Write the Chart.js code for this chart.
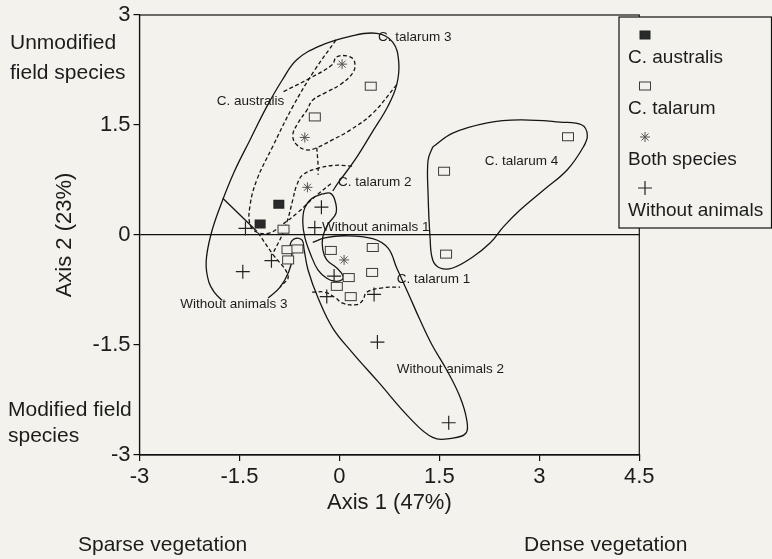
<!DOCTYPE html>
<html>
<head>
<meta charset="utf-8">
<script src="https://cdn.jsdelivr.net/npm/chart.js@4.4.1/dist/chart.umd.min.js"></script>
<style>
  html, body { margin: 0; padding: 0; background: #f3f2ec; }
  #wrap { position: relative; width: 772px; height: 559px; }
</style>
</head>
<body>
<div id="wrap"><canvas id="ordination" width="772" height="559"></canvas></div>
<script>
// Tick labels
var xTicks = [-3, -1.5, 0, 1.5, 3, 4.5];
var yTicks = [-3, -1.5, 0, 1.5, 3];

// Sample scores (axis 1, axis 2)
var australisPts = [[-0.91, 0.42], [-1.19, 0.15]];
var talarumPts = [
    [0.47, 2.03], [-0.37, 1.61], [-0.84, 0.08], [-0.78, -0.20], [-0.63, -0.19],
    [-0.77, -0.34], [-0.13, -0.21], [0.50, -0.17], [0.49, -0.51], [0.14, -0.58],
    [-0.04, -0.70], [0.17, -0.84], [3.43, 1.34], [1.57, 0.87], [1.60, -0.26]
];
var bothPts = [[0.04, 2.33], [-0.52, 1.33], [-0.48, 0.65], [0.07, -0.34]];
var withoutPts = [
    [-1.41, 0.09], [-0.27, 0.38], [-0.37, 0.10], [-1.02, -0.35], [-1.45, -0.50],
    [-0.08, -0.56], [-0.19, -0.84], [0.52, -0.81], [0.57, -1.46], [1.64, -2.56]
];

// Group outlines, solid
var lineTalarum3 = [
    [-0.10, 0.60], [-0.02, 0.71], [0.23, 1.02], [0.49, 1.40], [0.73, 1.76], [0.86, 2.05],
    [0.89, 2.36], [0.80, 2.63], [0.56, 2.75], [0.16, 2.71], [-0.29, 2.58], [-0.64, 2.39],
    [-0.86, 2.11], [-1.09, 1.75], [-1.34, 1.30], [-1.58, 0.86], [-1.78, 0.41], [-1.93, 0.00],
    [-2.00, -0.37], [-1.96, -0.64], [-1.87, -0.79], [-1.76, -0.89]
];
var lineWithout2 = [
    [-1.07, -0.86], [-0.89, -0.71], [-0.76, -0.50], [-0.71, -0.31], [-0.74, -0.14],
    [-0.67, -0.05], [-0.56, -0.07], [-0.53, -0.20], [-0.47, -0.48], [-0.32, -0.86],
    [-0.10, -1.27], [0.19, -1.60], [0.58, -2.00], [1.06, -2.50], [1.40, -2.76],
    [1.70, -2.77], [1.90, -2.70], [1.91, -2.52], [1.81, -2.21], [1.61, -1.84],
    [1.39, -1.50], [1.21, -1.16], [1.03, -0.79], [0.86, -0.45], [0.73, -0.18],
    [0.50, -0.05], [0.08, -0.01], [-0.22, -0.04], [-0.40, -0.10]
];
var lineWithout1 = [
    [-0.26, 0.56], [-0.14, 0.57], [-0.07, 0.48], [-0.05, 0.30], [-0.17, 0.15],
    [-0.25, -0.03], [-0.25, -0.20], [-0.19, -0.34], [-0.04, -0.45], [0.05, -0.55],
    [0.04, -0.61], [-0.07, -0.63], [-0.19, -0.59], [-0.32, -0.48], [-0.43, -0.27],
    [-0.52, -0.03], [-0.55, 0.18], [-0.52, 0.37], [-0.41, 0.50], [-0.26, 0.56]
];
var lineTalarum4 = [
    [1.40, 1.20], [1.70, 1.39], [2.22, 1.53], [2.71, 1.57], [3.31, 1.54], [3.64, 1.50],
    [3.72, 1.36], [3.66, 1.20], [3.42, 0.89], [3.06, 0.61], [2.71, 0.34], [2.46, 0.11],
    [2.26, -0.11], [2.00, -0.30], [1.70, -0.45], [1.51, -0.45], [1.40, -0.34],
    [1.36, -0.03], [1.33, 0.57], [1.33, 1.02], [1.40, 1.20]
];
var lineWithout3 = [[-1.75, 0.50], [-1.24, 0.05]];

// Group outlines, dashed
var dashAustralis = [
    [-0.05, 2.66], [-0.37, 2.25], [-0.70, 1.75], [-1.01, 1.19], [-1.24, 0.75],
    [-1.34, 0.41], [-1.34, 0.14], [-1.22, 0.03], [-1.04, 0.03], [-0.86, 0.14],
    [-0.62, 0.31], [-0.37, 0.52], [-0.10, 0.72]
];
var dashBoth = [
    [0.86, 2.05], [0.50, 1.66], [0.16, 1.43], [-0.10, 1.30], [-0.34, 1.19], [-0.49, 1.16],
    [-0.64, 1.23], [-0.70, 1.36], [-0.62, 1.53], [-0.49, 1.70], [-0.40, 1.84], [-0.19, 1.95],
    [0.01, 2.05], [0.20, 2.21], [0.23, 2.35], [0.16, 2.43], [-0.04, 2.43], [-0.11, 2.32],
    [-0.44, 2.14], [-0.85, 1.95]
];
var dashStem = [[-0.34, 1.19], [-0.32, 0.95], [-0.32, 0.82]];
var dashTalarum2 = [
    [0.19, 0.94], [-0.07, 0.95], [-0.32, 0.91], [-0.55, 0.82], [-0.64, 0.68],
    [-0.70, 0.48], [-0.77, 0.23], [-0.86, 0.00], [-1.01, -0.27]
];
var dashWithout3 = [[-1.22, 0.03], [-1.01, -0.25], [-0.77, -0.56], [-0.89, -0.71]];
var dashTalarum1 = [
    [-0.41, -0.78], [-0.22, -0.78], [-0.07, -0.85], [0.05, -0.93], [0.26, -0.95],
    [0.35, -0.89], [0.41, -0.78], [0.65, -0.72], [0.91, -0.71]
];

// Group names written in the plot
var groupNames = ['C. talarum 3', 'C. australis', 'C. talarum 2', 'Without animals 1',
    'C. talarum 4', 'C. talarum 1', 'Without animals 3', 'Without animals 2'];
var groupAnchors = [[0.58, 2.69], [-1.84, 1.83], [-0.02, 0.72], [-0.26, 0.10],
    [2.18, 1.00], [0.86, -0.60], [-2.39, -0.95], [0.86, -1.83]];

var legendNames = ['C. australis', 'C. talarum', 'Both species', 'Without animals'];

var FONT = '"Liberation Sans", Arial, Helvetica, sans-serif';
var INK = '#1c1c1c';
var BG = '#f3f2ec';

Chart.defaults.font.family = FONT;
Chart.defaults.color = INK;

function toXY(list) {
    return list.map(function (p) { return {x: p[0], y: p[1]}; });
}

function makeMarker(w, h, draw) {
    var c = document.createElement('canvas');
    c.width = w;
    c.height = h;
    draw(c.getContext('2d'));
    return c;
}

var markFilled = makeMarker(13, 11, function (g) {
    g.fillStyle = '#2a2a2a';
    g.fillRect(1, 1, 11, 9);
    g.strokeStyle = '#222';
    g.strokeRect(1.5, 1.5, 10, 8);
});
var markHollow = makeMarker(14, 11, function (g) {
    g.fillStyle = BG;
    g.fillRect(1, 1, 12, 9);
    g.strokeStyle = '#3a3a3a';
    g.lineWidth = 1;
    g.strokeRect(1.5, 1.5, 11, 8);
});

function drawMarker(ctx, kind, x, y) {
    ctx.save();
    if (kind === 0) {
        ctx.drawImage(markFilled, x - 6.5, y - 5.5);
    } else if (kind === 1) {
        ctx.drawImage(markHollow, x - 7, y - 5.5);
    } else if (kind === 2) {
        ctx.strokeStyle = '#555';
        ctx.lineWidth = 1;
        ctx.beginPath();
        for (var a = 0; a < 4; a++) {
            var ang = a * Math.PI / 4;
            ctx.moveTo(x - 5 * Math.cos(ang), y - 5 * Math.sin(ang));
            ctx.lineTo(x + 5 * Math.cos(ang), y + 5 * Math.sin(ang));
        }
        ctx.stroke();
    } else {
        ctx.strokeStyle = '#222';
        ctx.lineWidth = 1.2;
        ctx.beginPath();
        ctx.moveTo(x - 7, y);
        ctx.lineTo(x + 7, y);
        ctx.moveTo(x, y - 7);
        ctx.lineTo(x, y + 7);
        ctx.stroke();
    }
    ctx.restore();
}

function outline(list, dashed) {
    return {
        data: toXY(list),
        showLine: true,
        pointRadius: 0,
        borderColor: '#151515',
        borderWidth: 1.3,
        borderDash: dashed ? [4, 2.5] : [],
        tension: 0.4,
        fill: false,
        order: 2
    };
}

// Frame round the plot, names inside it, side notes and the legend box
var extrasPlugin = {
    id: 'extras',
    beforeDatasetsDraw: function (chart) {
        var ctx = chart.ctx, a = chart.chartArea;
        ctx.save();
        ctx.strokeStyle = '#111';
        ctx.lineWidth = 1.2;
        ctx.strokeRect(a.left, a.top, a.right - a.left, a.bottom - a.top);
        ctx.restore();
    },
    afterDatasetsDraw: function (chart) {
        var ctx = chart.ctx, sx = chart.scales.x, sy = chart.scales.y;
        ctx.save();
        ctx.fillStyle = INK;
        ctx.font = '13.5px ' + FONT;
        ctx.textBaseline = 'middle';
        ctx.textAlign = 'left';
        groupNames.forEach(function (name, i) {
            ctx.fillText(name, sx.getPixelForValue(groupAnchors[i][0]), sy.getPixelForValue(groupAnchors[i][1]));
        });
        ctx.restore();
    },
    afterDraw: function (chart) {
        var ctx = chart.ctx;
        ctx.save();
        ctx.fillStyle = INK;
        ctx.textBaseline = 'middle';
        ctx.textAlign = 'left';
        ctx.font = '21px ' + FONT;
        ctx.fillText('Unmodified', 10, 43);
        ctx.fillText('field species', 10, 73);
        ctx.fillText('Modified field', 8, 410);
        ctx.fillText('species', 8, 436);
        ctx.fillText('Sparse vegetation', 78, 545);
        ctx.fillText('Dense vegetation', 524, 545);

        // Legend
        ctx.fillStyle = BG;
        ctx.fillRect(619, 17, 152.5, 211);
        ctx.strokeStyle = '#111';
        ctx.lineWidth = 1.2;
        ctx.strokeRect(619, 17, 152.5, 211);
        ctx.fillStyle = INK;
        ctx.font = '19px ' + FONT;
        legendNames.forEach(function (name, i) {
            var top = 35 + i * 51;
            drawMarker(ctx, i, 645, top);
            ctx.fillText(name, 628, top + 23);
        });
        ctx.restore();
    }
};

var ctx = document.getElementById('ordination').getContext('2d');
var myChart = new Chart(ctx, {
    type: 'scatter',
    data: {
        datasets: [
            {label: legendNames[0], data: toXY(australisPts), pointStyle: markFilled, order: 0},
            {label: legendNames[1], data: toXY(talarumPts), pointStyle: markHollow, order: 0},
            {label: legendNames[2], data: toXY(bothPts), pointStyle: 'star', pointRadius: 5,
                borderColor: '#555', borderWidth: 1, order: 0},
            {label: legendNames[3], data: toXY(withoutPts), pointStyle: 'cross', pointRadius: 7,
                borderColor: '#222', borderWidth: 1.2, order: 0},
            outline(lineTalarum3, false),
            outline(lineWithout2, false),
            outline(lineWithout1, false),
            outline(lineTalarum4, false),
            outline(lineWithout3, false),
            outline(dashAustralis, true),
            outline(dashBoth, true),
            outline(dashStem, true),
            outline(dashTalarum2, true),
            outline(dashWithout3, true),
            outline(dashTalarum1, true)
        ]
    },
    options: {
        responsive: false,
        animation: false,
        devicePixelRatio: 1,
        events: [],
        layout: {padding: {top: 15, right: 132.7, bottom: 0, left: 0}},
        plugins: {legend: {display: false}, tooltip: {enabled: false}},
        scales: {
            x: {
                type: 'linear',
                min: -3,
                max: 4.5,
                afterBuildTicks: function (s) {
                    s.ticks = xTicks.map(function (v) { return {value: v}; });
                },
                ticks: {font: {size: 22}, color: INK, padding: 3, maxRotation: 0,
                    callback: function (v) { return String(v); }},
                grid: {drawOnChartArea: false, tickLength: 6, tickColor: '#111', lineWidth: 1.2},
                border: {color: '#111', width: 1.2},
                title: {display: true, text: 'Axis 1 (47%)', font: {size: 22}, color: INK,
                    padding: {top: 0, bottom: 43}},
                afterFit: function (s) {
                    s.height = 104;
                    s.paddingLeft = 0;
                    s.paddingRight = 0;
                }
            },
            y: {
                type: 'linear',
                min: -3,
                max: 3,
                afterBuildTicks: function (s) {
                    s.ticks = yTicks.map(function (v) { return {value: v}; });
                },
                ticks: {font: {size: 22}, color: INK, padding: 3,
                    callback: function (v) { return String(v); }},
                grid: {
                    drawOnChartArea: true,
                    tickLength: 6,
                    tickColor: '#111',
                    lineWidth: 1.2,
                    color: function (c) {
                        return c.tick && c.tick.value === 0 ? '#111' : 'rgba(0,0,0,0)';
                    }
                },
                border: {color: '#111', width: 1.2},
                title: {display: true, text: 'Axis 2 (23%)', font: {size: 22}, color: INK,
                    padding: {top: 52, bottom: 0}},
                afterFit: function (s) {
                    s.width = 139.5;
                    s.paddingTop = 0;
                    s.paddingBottom = 0;
                }
            }
        }
    },
    plugins: [extrasPlugin]
});
</script>
</body>
</html>
